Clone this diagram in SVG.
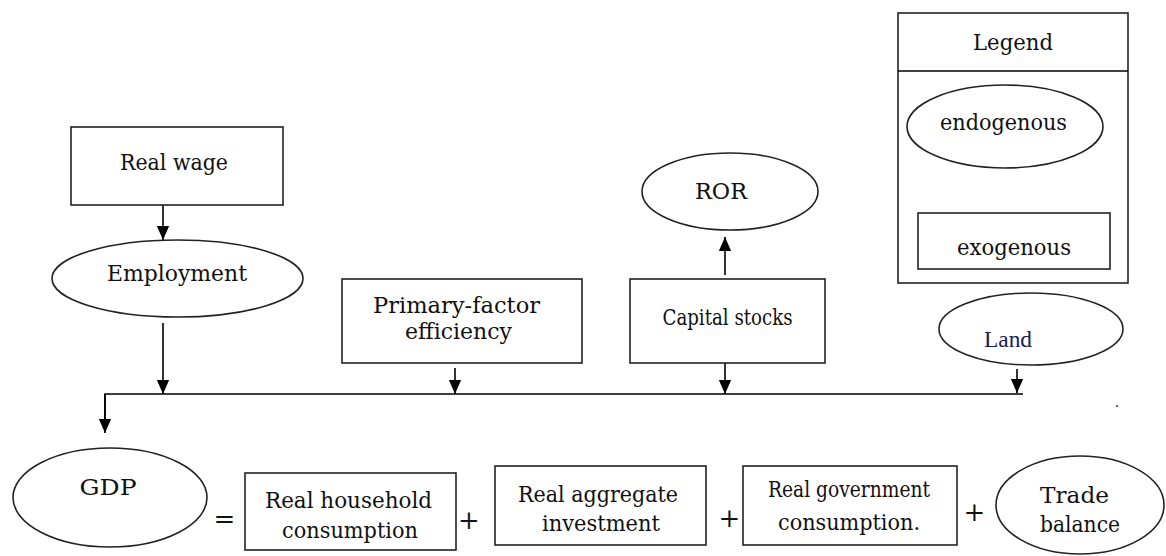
<svg xmlns="http://www.w3.org/2000/svg" width="1166" height="556" viewBox="0 0 1166 556">
<defs>
<marker id="ah" markerUnits="userSpaceOnUse" markerWidth="14" markerHeight="17" refX="16" refY="7" orient="auto" viewBox="0 0 16 14">
<path d="M0,0 L16,7 L0,14 Z" fill="#000"/>
</marker>
<style>
.n{fill:#fff;stroke:#222;stroke-width:1.6}
.t{font-family:"DejaVu Serif","Liberation Serif",serif;font-size:22px;fill:#111;text-anchor:middle}
.c{stroke:#000;stroke-width:1.6;fill:none}
.a{marker-end:url(#ah)}
</style>
</defs>
<rect width="1166" height="556" fill="#fff"/>
<g id="connectors">
<line class="c a" x1="163" y1="205" x2="163" y2="240"/>
<line class="c a" x1="163" y1="323" x2="163" y2="394"/>
<line class="c a" x1="455" y1="368" x2="455" y2="394"/>
<line class="c a" x1="725" y1="363" x2="725" y2="394"/>
<line class="c a" x1="725" y1="275" x2="725" y2="237"/>
<line class="c a" x1="1017" y1="369" x2="1017" y2="393"/>
<polyline class="c" points="1023,394 105,394 105,420"/>
<line class="c a" x1="105" y1="394" x2="105" y2="433"/>
</g>
<g id="real-wage"><rect class="n" x="71" y="127" width="212" height="78"/><text class="t" x="174" y="170" textLength="108" lengthAdjust="spacingAndGlyphs">Real wage</text></g>
<g id="employment"><ellipse class="n" cx="177.5" cy="278.5" rx="125.5" ry="38.5"/><text class="t" x="177" y="281" textLength="140" lengthAdjust="spacingAndGlyphs">Employment</text></g>
<g id="primary-factor"><rect class="n" x="342" y="279" width="240" height="84"/><text class="t" x="456.5" y="313" textLength="167" lengthAdjust="spacingAndGlyphs">Primary-factor</text><text class="t" x="458.5" y="339" textLength="107" lengthAdjust="spacingAndGlyphs">efficiency</text></g>
<g id="ror"><ellipse class="n" cx="730" cy="191.5" rx="88" ry="38.5"/><text class="t" x="721" y="199" textLength="52" lengthAdjust="spacingAndGlyphs">ROR</text></g>
<g id="capital-stocks"><rect class="n" x="630" y="279" width="195" height="84"/><text class="t" x="727.5" y="325" textLength="130" lengthAdjust="spacingAndGlyphs">Capital stocks</text></g>
<g id="land"><ellipse class="n" cx="1031" cy="329" rx="92" ry="36"/><text x="1008" y="347" textLength="48" lengthAdjust="spacingAndGlyphs" style="font-family:'Liberation Serif',serif;font-size:23px;fill:#1c1c50;text-anchor:middle">Land</text></g>
<g id="legend">
<rect class="n" x="898" y="13" width="230" height="270"/>
<line class="c" x1="898" y1="71" x2="1128" y2="71"/>
<text class="t" x="1013" y="50" textLength="80" lengthAdjust="spacingAndGlyphs">Legend</text>
<ellipse class="n" cx="1005" cy="126.5" rx="98" ry="41.5"/>
<text class="t" x="1003.5" y="130" textLength="127" lengthAdjust="spacingAndGlyphs">endogenous</text>
<rect class="n" x="918" y="213" width="192" height="56"/>
<text class="t" x="1014" y="255" textLength="114" lengthAdjust="spacingAndGlyphs">exogenous</text>
</g>
<g id="gdp"><ellipse class="n" cx="110" cy="497.5" rx="97" ry="49.5"/><text class="t" x="108" y="495" textLength="57" lengthAdjust="spacingAndGlyphs">GDP</text></g>
<g id="household"><rect class="n" x="245" y="473" width="211" height="77"/><text class="t" x="348.5" y="508" textLength="167" lengthAdjust="spacingAndGlyphs">Real household</text><text class="t" x="350" y="538" textLength="136" lengthAdjust="spacingAndGlyphs">consumption</text></g>
<g id="investment"><rect class="n" x="495" y="466" width="211" height="79"/><text class="t" x="598" y="502" textLength="160" lengthAdjust="spacingAndGlyphs">Real aggregate</text><text class="t" x="601" y="531" textLength="118" lengthAdjust="spacingAndGlyphs">investment</text></g>
<g id="government"><rect class="n" x="743" y="466" width="214" height="79"/><text class="t" x="849" y="497" textLength="162" lengthAdjust="spacingAndGlyphs">Real government</text><text class="t" x="849" y="530" textLength="142" lengthAdjust="spacingAndGlyphs">consumption.</text></g>
<g id="trade-balance"><ellipse class="n" cx="1080" cy="505" rx="84" ry="49"/><text class="t" x="1074.5" y="503" textLength="69" lengthAdjust="spacingAndGlyphs">Trade</text><text class="t" x="1080" y="532" textLength="80" lengthAdjust="spacingAndGlyphs">balance</text></g>
<g id="operators" class="t" style="font-size:26px">
<text x="224.5" y="528">=</text>
<text x="469" y="529">+</text>
<text x="729.5" y="527">+</text>
<text x="974.5" y="521">+</text>
</g>
<circle cx="1117" cy="406" r="1" fill="#333"/>
</svg>
